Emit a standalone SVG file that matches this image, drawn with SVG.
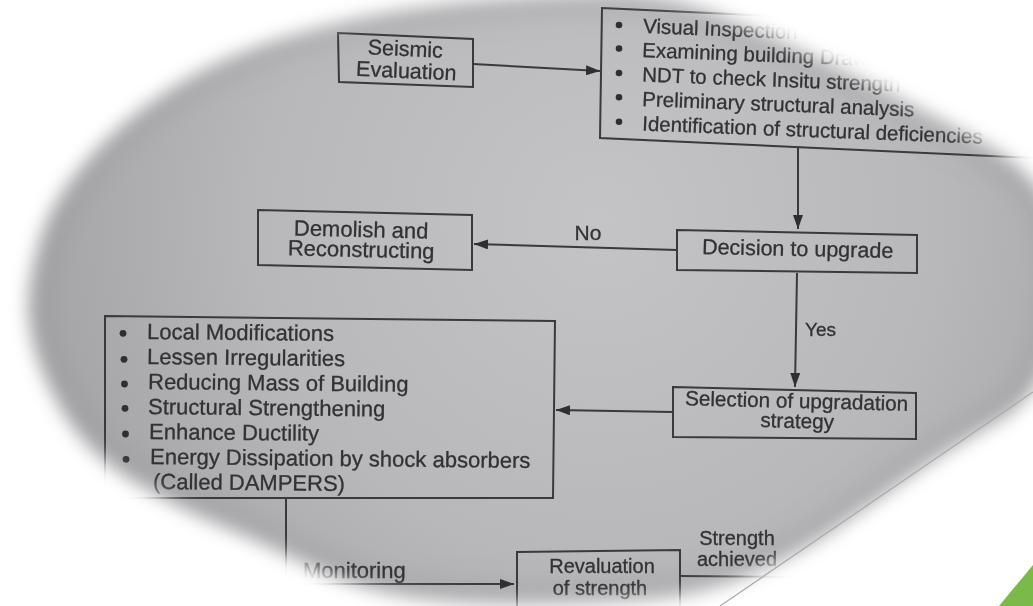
<svg xmlns="http://www.w3.org/2000/svg" width="1033" height="606" viewBox="0 0 1033 606">
<defs>
<style>
.box{fill:none;stroke:#3a393c;stroke-width:2}
.ln{fill:none;stroke:#3a393c;stroke-width:2}
.t{font-family:"Liberation Sans",Arial,sans-serif;fill:#323134;stroke:#323134;stroke-width:0.3}
.c{text-anchor:middle}
.bul{fill:#2f2e31}
</style>
<marker id="ah" viewBox="0 0 14 10" refX="14" refY="5" markerWidth="14" markerHeight="10" markerUnits="userSpaceOnUse" orient="auto"><path d="M0,0 L14,5 L0,10 Z" fill="#2f2e31"/></marker>
<filter id="soft" x="-10%" y="-10%" width="120%" height="120%"><feGaussianBlur stdDeviation="9"/></filter>
<filter id="rim" x="-10%" y="-10%" width="120%" height="120%"><feGaussianBlur stdDeviation="14"/></filter>
<radialGradient id="page" gradientUnits="userSpaceOnUse" cx="600" cy="220" r="620">
<stop offset="0" stop-color="#c4c3c6"/>
<stop offset="0.55" stop-color="#b8b7ba"/>
<stop offset="1" stop-color="#a09fa2"/>
</radialGradient>
<path id="vig" d="M 610,-7 Q 660,-8 715,13.5 Q 770,35 845,71.5 Q 920,108 985,144 Q 1050,180 1057.5,235 Q 1065,290 1052.5,344 Q 1040,398 995,423 Q 950,448 910,476.5 Q 870,505 835,529 Q 800,553 750,574.5 Q 700,596 640,600 Q 580,604 520,604 Q 460,604 410,597 Q 360,590 310,566 Q 260,542 221.5,526 Q 183,510 140,485 Q 97,460 73.5,427.5 Q 50,395 37.5,357.5 Q 25,320 30,285 Q 35,250 47.5,220 Q 60,190 92.5,154 Q 125,118 173.5,87 Q 222,56 286,37 Q 350,18 402.5,10 Q 455,2 507.5,-2 Q 560,-6 610,-7 Z"/>
<mask id="m" maskUnits="userSpaceOnUse" x="-60" y="-60" width="1160" height="730"><use href="#vig" fill="#fff" filter="url(#soft)"/></mask>
</defs>
<rect width="1033" height="606" fill="#fff"/>
<g mask="url(#m)">
<rect x="-20" y="-20" width="1100" height="660" fill="url(#page)"/>
<use href="#vig" fill="none" stroke="#8f8e91" stroke-width="30" filter="url(#rim)" opacity="0.35"/>

<g id="connectors">
<line class="ln" x1="473" y1="64" x2="600" y2="71" marker-end="url(#ah)"/>
<line class="ln" x1="798" y1="147" x2="798" y2="229" marker-end="url(#ah)"/>
<line class="ln" x1="677" y1="250" x2="474" y2="244" marker-end="url(#ah)"/>
<text class="t c" x="588" y="240" font-size="21">No</text>
<line class="ln" x1="797" y1="273" x2="795" y2="387" marker-end="url(#ah)"/>
<text class="t" x="805" y="336" font-size="19">Yes</text>
<line class="ln" x1="673" y1="412" x2="556" y2="410" marker-end="url(#ah)"/>
<polyline class="ln" points="286,498 286,584 514,584" marker-end="url(#ah)"/>
<text class="t" x="303" y="578" font-size="22">Monitoring</text>
<line class="ln" x1="680" y1="576" x2="900" y2="578"/>
<text class="t c" x="737" y="545" font-size="20">Strength</text>
<text class="t c" x="737" y="566" font-size="20">achieved</text>
</g>

<g id="seismic-evaluation">
<polygon class="box" points="338,33 473,39 473,87 339,82"/>
<text class="t c" x="405" y="56" font-size="21.5" transform="rotate(2.5 405 56)">Seismic</text>
<text class="t c" x="406" y="78" font-size="21.5" transform="rotate(2.5 406 78)">Evaluation</text>
</g>

<g id="evaluation-steps">
<polygon class="box" points="602,8 1080,30 1080,160 600,138"/>
<circle class="bul" cx="619" cy="25" r="3.3"/>
<circle class="bul" cx="619" cy="48.5" r="3.3"/>
<circle class="bul" cx="619" cy="73" r="3.3"/>
<circle class="bul" cx="619" cy="97.3" r="3.3"/>
<circle class="bul" cx="619" cy="121.7" r="3.3"/>
<text class="t" x="643" y="33" font-size="20.5" transform="rotate(2.2 643 33)">Visual Inspection</text>
<text class="t" x="642" y="57" font-size="20.5" transform="rotate(2.2 642 57)">Examining building Drawings</text>
<text class="t" x="642" y="81.5" font-size="20.5" transform="rotate(2.2 642 81.5)">NDT to check Insitu strength</text>
<text class="t" x="642" y="106" font-size="20.5" transform="rotate(2.2 642 106)">Preliminary structural analysis</text>
<text class="t" x="642" y="130.5" font-size="20.5" transform="rotate(2.2 642 130.5)">Identification  of structural deficiencies</text>
</g>

<g id="decision">
<polygon class="box" points="677,230 917,235 917,273 677,270"/>
<text class="t c" x="797.5" y="256" font-size="21.5" transform="rotate(1.2 797.5 256)">Decision to upgrade</text>
</g>

<g id="demolish">
<polygon class="box" points="258,210 472,215 472,270 258,265"/>
<text class="t c" x="361" y="237" font-size="22" transform="rotate(1.3 361 237)">Demolish and</text>
<text class="t c" x="361" y="257" font-size="22" transform="rotate(1.3 361 257)">Reconstructing</text>
</g>

<g id="selection">
<polygon class="box" points="673,387 916,393 916,439 673,437"/>
<text class="t c" x="796.5" y="408" font-size="20.7" transform="rotate(1.4 796.5 408)">Selection of upgradation</text>
<text class="t c" x="797" y="428" font-size="20.7" transform="rotate(1.4 797 428)">strategy</text>
</g>

<g id="strategies">
<polygon class="box" points="105,316 555,321 553,498 105,498"/>
<circle class="bul" cx="123" cy="333.3" r="3.4"/>
<circle class="bul" cx="124" cy="359.3" r="3.4"/>
<circle class="bul" cx="124.5" cy="384" r="3.4"/>
<circle class="bul" cx="125" cy="408.3" r="3.4"/>
<circle class="bul" cx="125.5" cy="434" r="3.4"/>
<circle class="bul" cx="126" cy="459.3" r="3.4"/>
<text class="t" x="147" y="339" font-size="22" transform="rotate(0.6 147 339)">Local Modifications</text>
<text class="t" x="147" y="364" font-size="22" transform="rotate(0.6 147 364)">Lessen Irregularities</text>
<text class="t" x="148" y="389" font-size="22" transform="rotate(0.6 148 389)">Reducing Mass of Building</text>
<text class="t" x="148" y="414" font-size="22" transform="rotate(0.6 148 414)">Structural Strengthening</text>
<text class="t" x="149" y="439" font-size="22" transform="rotate(0.6 149 439)">Enhance Ductility</text>
<text class="t" x="150" y="464" font-size="22" transform="rotate(0.6 150 464)">Energy Dissipation by shock absorbers</text>
<text class="t" x="153" y="489" font-size="22" transform="rotate(0.6 153 489)">(Called DAMPERS)</text>
</g>

<g id="revaluation">
<polyline class="box" points="517,640 517,552 680,550 680,640"/>
<text class="t c" x="602" y="573" font-size="20">Revaluation</text>
<text class="t c" x="600" y="595" font-size="20">of strength</text>
</g>
</g>

<line x1="1033" y1="392" x2="720" y2="606" stroke="#a9a9a9" stroke-width="1.2"/>
<polygon points="999,606 1033,565 1033,606" fill="#7bb94b"/>
</svg>
